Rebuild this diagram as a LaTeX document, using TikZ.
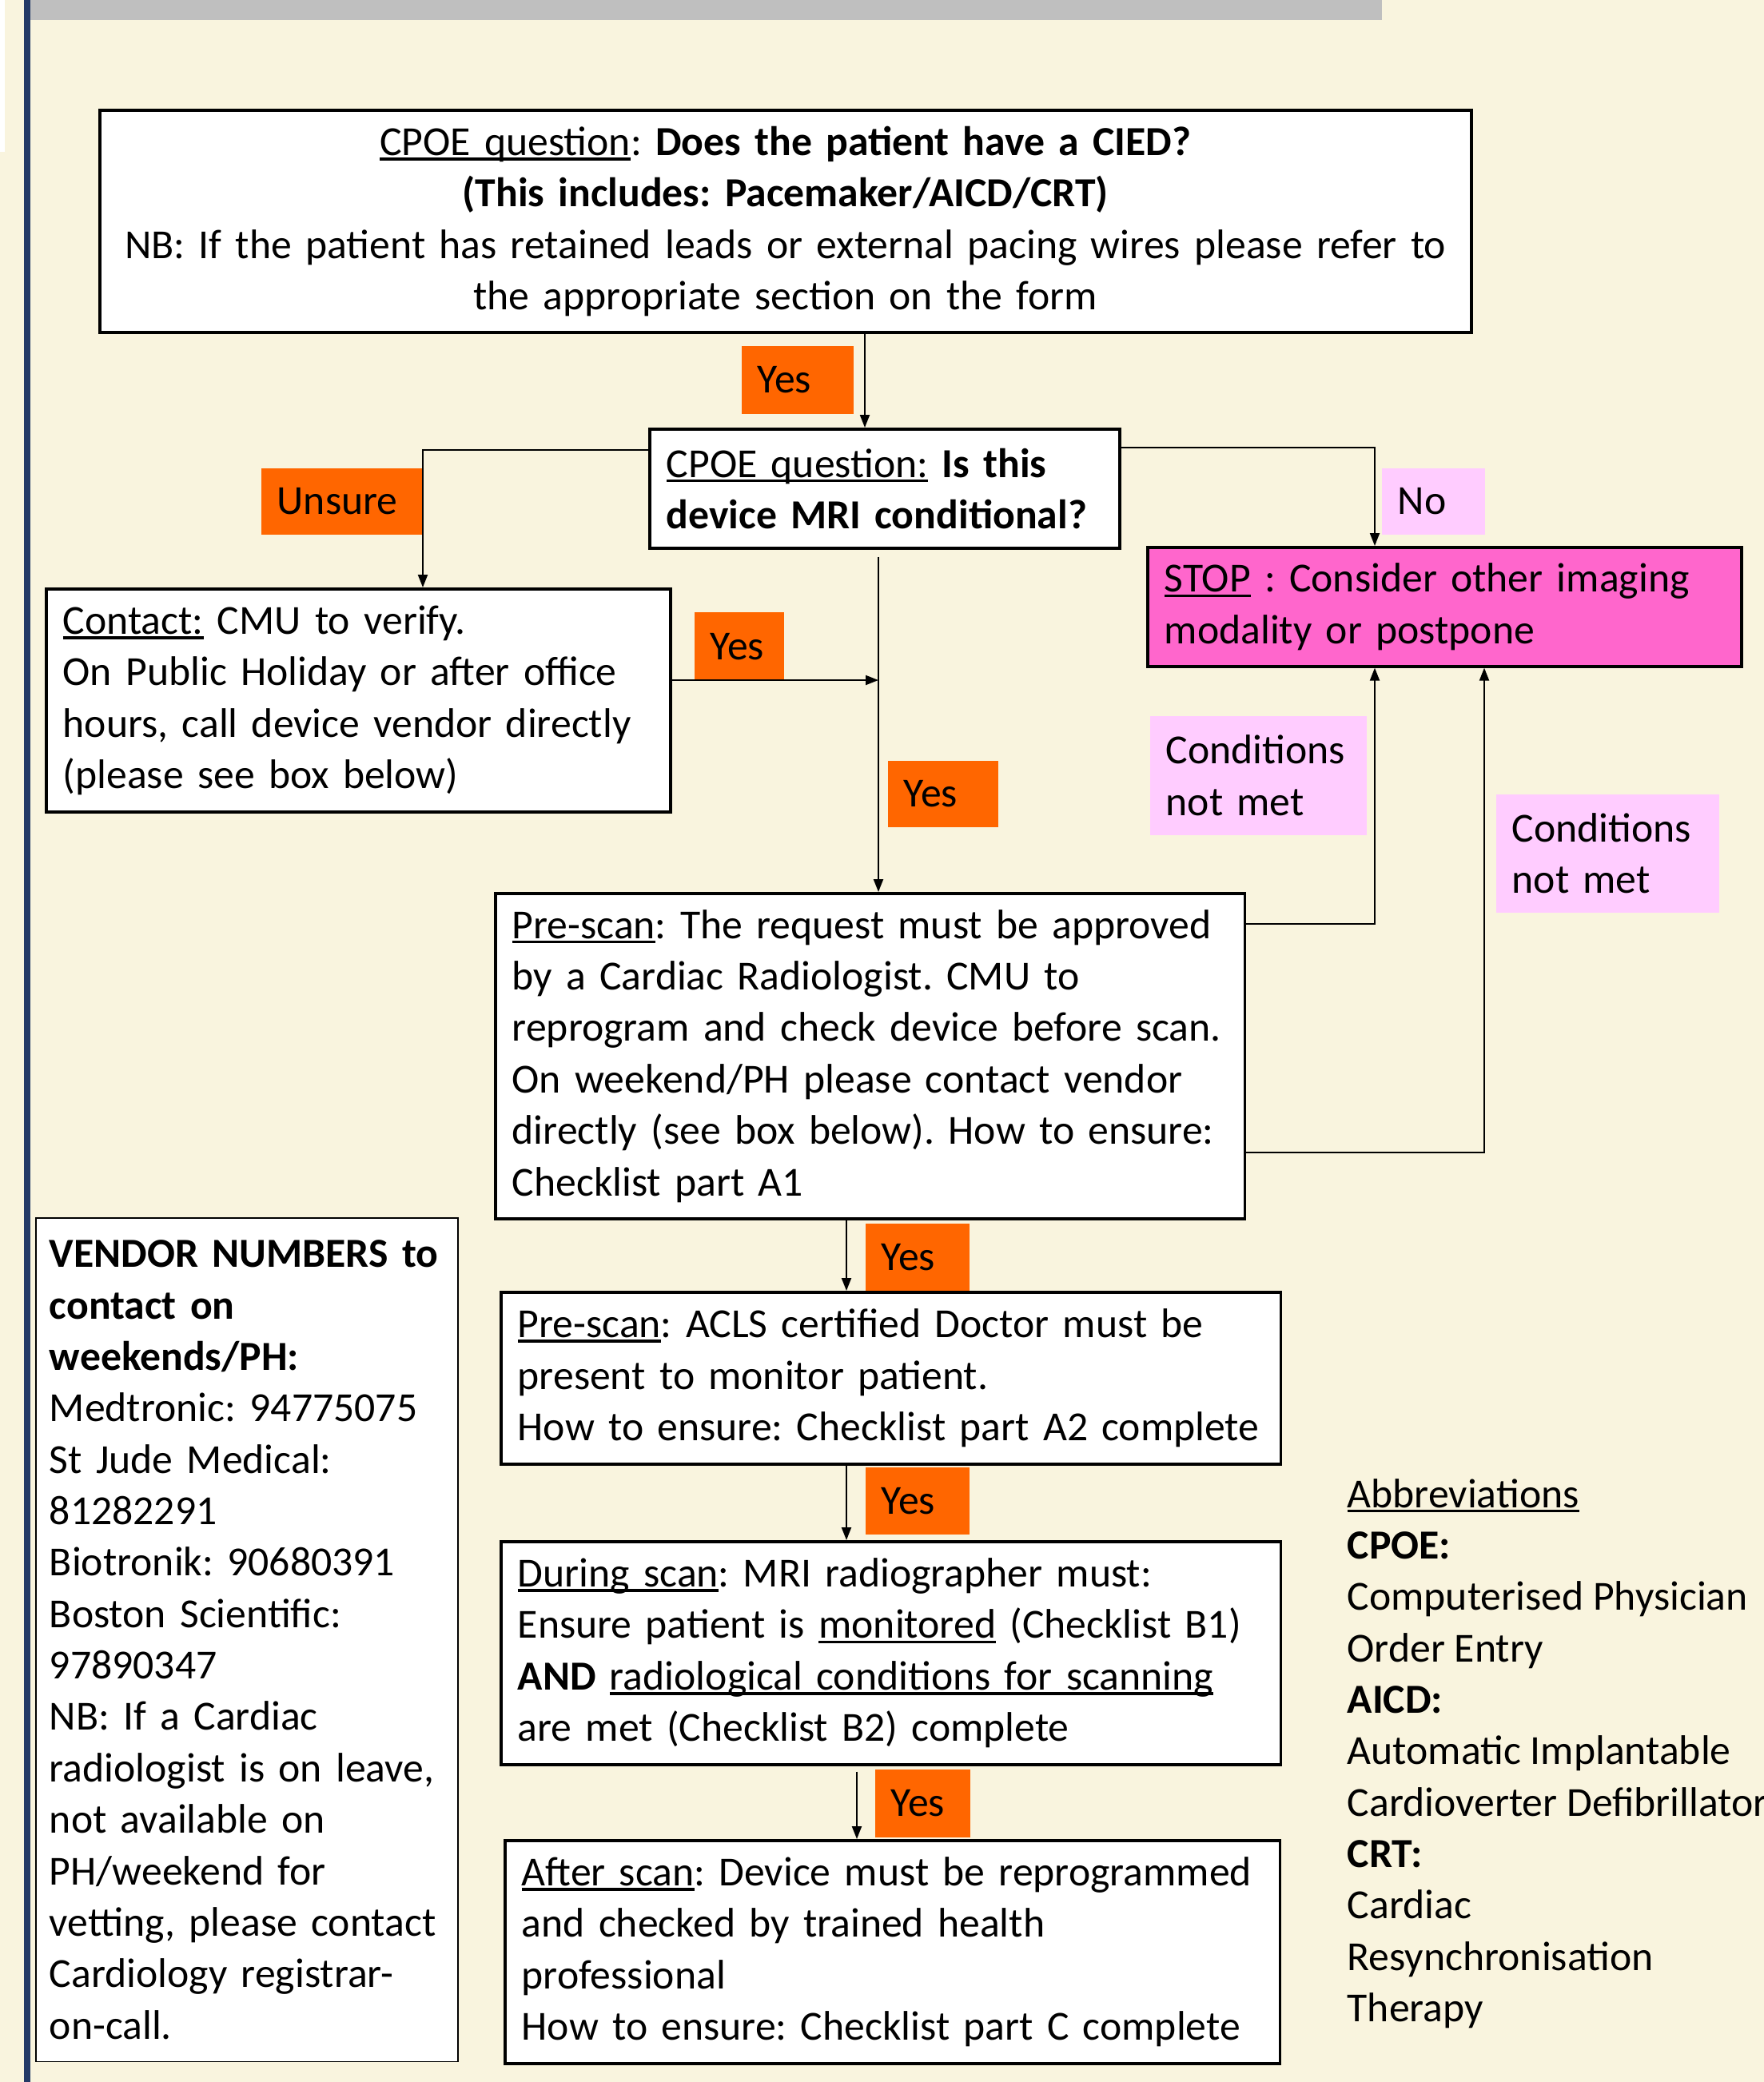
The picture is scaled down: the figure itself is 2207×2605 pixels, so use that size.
\documentclass[tikz,border=0pt]{standalone}
\usepackage{fontspec}
\setmainfont{Carlito}
\usetikzlibrary{
    arrows.meta
}
\definecolor{paper}{RGB}{249,244,222}
\definecolor{topbar}{RGB}{191,191,191}
\definecolor{navy}{RGB}{36,58,102}
\definecolor{answer}{RGB}{255,102,0}
\definecolor{notmet}{RGB}{255,204,255}
\definecolor{halt}{RGB}{255,102,204}
\newsavebox{\undlbox}
\newcommand{\undl}[1]{\sbox{\undlbox}{#1}\rlap{\rule[-0.12em]{\wd\undlbox}{0.07em}}\usebox{\undlbox}}
\hyphenpenalty=10000
\exhyphenpenalty=10000

\begin{document}
\begin{tikzpicture}[x=0.01cm, y=-0.01cm,
    every node/.style={font=\fontsize{14.7pt}{18.3pt}\selectfont\frenchspacing},
    box/.style={draw, line width=1pt, fill=white, anchor=north west, align=left, inner xsep=0.21cm},
    tag/.style={fill=answer, anchor=north west, align=left, inner xsep=0.2cm},
    pinktag/.style={fill=notmet, anchor=north west, align=left, inner xsep=0.2cm},
    arr/.style={-{Triangle[length=0.16cm, width=0.12cm]}, line width=0.6pt}]

    % Background
    \clip (0,0) rectangle (2207,2605);
    \fill[paper] (0,0) rectangle (2207,2605);
    \fill[white] (0,0) rectangle (6,190);
    \fill[topbar] (37,0) rectangle (1729,25);
    \fill[navy] (30,0) rectangle (38,2605);

    % Main flow
    \node[box, align=center, text width=16.73cm, minimum height=2.78cm] (cied) at (123,136)
        {\undl{CPOE question}: \textbf{Does the patient have a CIED?}\\
         \textbf{(This includes: Pacemaker/AICD/CRT)}\\
         NB: If the patient has retained leads or external pacing wires please refer to\\
         the appropriate section on the form};
    \node[box, text width=5.46cm, minimum height=1.49cm] (cond) at (811,535)
        {\undl{CPOE question:} \textbf{Is this}\\ \textbf{device MRI conditional?}};
    \node[box, text width=7.39cm, minimum height=2.79cm] (contact) at (56,735)
        {\undl{Contact:} CMU to verify.\\
         On Public Holiday or after office\\
         hours, call device vendor directly\\
         (please see box below)};
    \node[box, fill=halt, text width=7.01cm, minimum height=1.49cm] (stop) at (1434,683)
        {\undl{STOP} : Consider other imaging\\ modality or postpone};
    \node[box, text width=8.95cm, minimum height=4.07cm] (prescan) at (618,1116)
        {\undl{Pre-scan}: The request must be approved\\
         by a Cardiac Radiologist. CMU to\\
         reprogram and check device before scan.\\
         On weekend/PH please contact vendor\\
         directly (see box below). How to ensure:\\
         Checklist part A1};
    \node[box, text width=9.33cm, minimum height=2.15cm] (acls) at (625,1615)
        {\undl{Pre-scan}: ACLS certified Doctor must be\\
         present to monitor patient.\\
         How to ensure: Checklist part A2 complete};
    \node[box, text width=9.33cm, minimum height=2.79cm] (during) at (625,1927)
        {\undl{During scan}: MRI radiographer must:\\
         Ensure patient is \undl{monitored} (Checklist B1)\\
         \textbf{AND} \undl{radiological conditions for scanning}\\
         are met (Checklist B2) complete};
    \node[box, text width=9.27cm, minimum height=2.79cm] (after) at (630,2301)
        {\undl{After scan}: Device must be reprogrammed\\
         and checked by trained health\\
         professional\\
         How to ensure: Checklist part C complete};

    % Vendor numbers
    \node[box, line width=0.5pt, inner xsep=0.17cm, text width=4.94cm, minimum height=10.55cm] (vendor) at (44,1523)
        {\textbf{VENDOR NUMBERS to}\\
         \textbf{contact on}\\
         \textbf{weekends/PH:}\\
         Medtronic: 94775075\\
         St Jude Medical:\\
         81282291\\
         Biotronik: 90680391\\
         Boston Scientific:\\
         97890347\\
         NB: If a Cardiac\\
         radiologist is on leave,\\
         not available on\\
         PH/weekend for\\
         vetting, please contact\\
         Cardiology registrar-\\
         on-call.};

    % Abbreviations
    \node[anchor=west, align=left, inner sep=0pt] (abbr) at (1685,2194)
        {\undl{Abbreviations}\\
         \textbf{CPOE:}\\
         Computerised Physician\\
         Order Entry\\
         \textbf{AICD:}\\
         Automatic Implantable\\
         Cardioverter Defibrillator\\
         \textbf{CRT:}\\
         Cardiac\\
         Resynchronisation\\
         Therapy};

    % Answers
    \node[tag, text width=1.0cm, minimum height=0.85cm] (yes1) at (927,432) {Yes};
    \node[tag, text width=0.72cm, minimum height=0.86cm] (yes2) at (868,765) {Yes};
    \node[tag, text width=0.98cm, minimum height=0.83cm] (yes3) at (1110,951) {Yes};
    \node[tag, text width=0.9cm, minimum height=0.84cm] (yes4) at (1082,1530) {Yes};
    \node[tag, text width=0.9cm, minimum height=0.84cm] (yes5) at (1082,1835) {Yes};
    \node[tag, text width=0.79cm, minimum height=0.85cm] (yes6) at (1094,2213) {Yes};
    \node[tag, text width=1.63cm, minimum height=0.83cm] (unsure) at (326,585) {Unsure};
    \node[pinktag, text width=0.89cm, minimum height=0.83cm] (no) at (1728,585) {No};
    \node[pinktag, text width=2.31cm, minimum height=1.49cm] (notmet1) at (1438,895) {Conditions\\ not met};
    \node[pinktag, text width=2.39cm, minimum height=1.48cm] (notmet2) at (1871,993) {Conditions\\ not met};

    % Connectors
    \coordinate (xa) at (1082,0);
    \coordinate (xu) at (529,0);
    \coordinate (xv) at (1099,0);
    \coordinate (xn) at (1720,0);
    \coordinate (xm) at (1857,0);
    \coordinate (xb) at (1059,0);
    \coordinate (xc) at (1072,0);
    \coordinate (yu) at (0,563);
    \coordinate (yn) at (0,560);
    \coordinate (yc) at (0,851);
    \coordinate (yk1) at (0,1156);
    \coordinate (yk2) at (0,1442);

    \draw[arr] (cied.south -| xa) -- (cond.north -| xa);
    \draw[arr] (cond.west |- yu) -| (contact.north -| xu);
    \draw[arr] (contact.east |- yc) -- (xv |- yc);
    \draw[arr, shorten <=0.09cm] (cond.south -| xv) -- (prescan.north -| xv);
    \draw[arr] (cond.east |- yn) -| (stop.north -| xn);
    \draw[arr] (prescan.east |- yk1) -| (stop.south -| xn);
    \draw[arr] (prescan.east |- yk2) -| (stop.south -| xm);
    \draw[arr] (prescan.south -| xb) -- (acls.north -| xb);
    \draw[arr] (acls.south -| xb) -- (during.north -| xb);
    \draw[arr, shorten <=0.07cm] (during.south -| xc) -- (after.north -| xc);
\end{tikzpicture}
\end{document}
